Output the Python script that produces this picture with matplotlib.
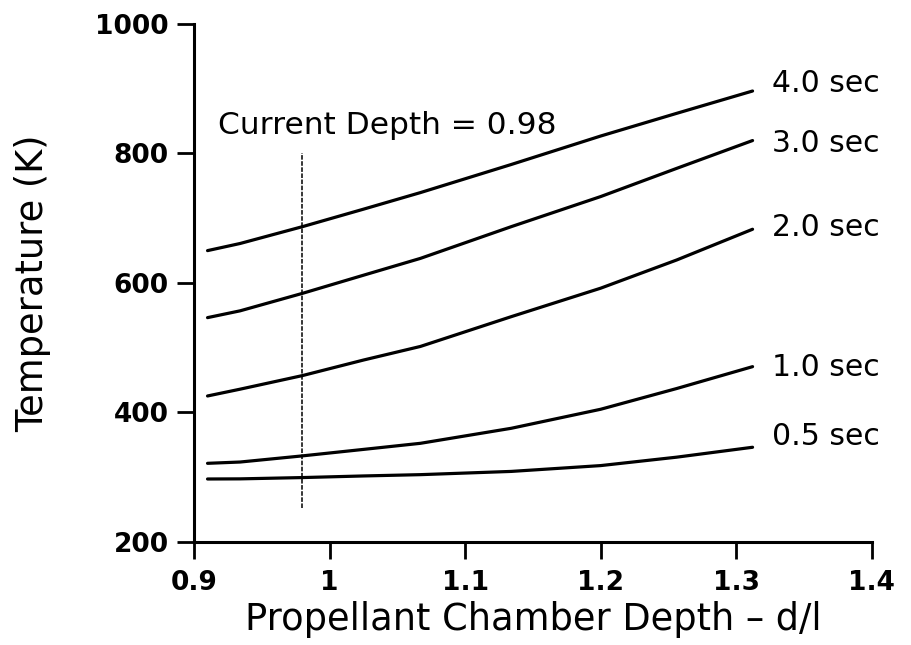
import matplotlib
matplotlib.use("Agg")
import matplotlib.pyplot as plt

DEPTH = [0.91, 0.934, 0.98, 1.025, 1.067, 1.134, 1.20, 1.256, 1.312]
TIME_LABELS = ["0.5 sec", "1.0 sec", "2.0 sec", "3.0 sec", "4.0 sec"]
TEMPS = [
    [297.3, 297.5, 299.5, 302, 304, 309, 318, 331, 346.3],
    [321.5, 323.5, 333, 343, 352.4, 375.6, 405, 437, 470.8],
    [425.5, 436, 457, 481, 502, 548, 592, 635.5, 683],
    [546.5, 557, 584, 612, 638, 687, 733.5, 777, 820],
    [650, 661, 687, 714, 739.6, 783, 827, 862, 896.5],
]
CURRENT_DEPTH = 0.98
X_TICKS = [0.9, 1.0, 1.1, 1.2, 1.3, 1.4]
X_TICK_LABELS = ["0.9", "1", "1.1", "1.2", "1.3", "1.4"]
Y_TICKS = [200, 400, 600, 800, 1000]

# label anchor y offsets relative to curve end (data units)
LABEL_DY = [16, -2, 2, -4, 12]

fig = plt.figure(figsize=(9.12, 6.45), dpi=100)
ax = fig.add_axes([0.2127, 0.1597, 0.956 - 0.2127, 0.9628 - 0.1597])

for temps, label, dy in zip(TEMPS, TIME_LABELS, LABEL_DY):
    ax.plot(DEPTH, temps, color="black", lw=2.3, solid_capstyle="round")
    ax.text(1.3267, temps[-1] + dy, label, fontsize=21.5, va="center", ha="left")

ax.vlines(CURRENT_DEPTH, 252, 800, color="black", lw=1.1, linestyles=(0, (3, 1)))
ax.text(0.9178, 844, f"Current Depth = {CURRENT_DEPTH}", fontsize=22.5, va="center", ha="left")

ax.set_xlim(0.9, 1.4)
ax.set_ylim(200, 1000)
ax.set_xticks(X_TICKS)
ax.set_xticklabels(X_TICK_LABELS)
ax.set_yticks(Y_TICKS)
ax.tick_params(direction="out", length=12, width=2, labelsize=19)
ax.tick_params(axis="x", pad=8)
ax.tick_params(axis="y", pad=6)
for lbl in ax.get_xticklabels() + ax.get_yticklabels():
    lbl.set_fontweight("bold")

for side in ["top", "right"]:
    ax.spines[side].set_visible(False)
for side in ["left", "bottom"]:
    ax.spines[side].set_linewidth(2.2)

ax.set_xlabel("Propellant Chamber Depth \u2013 d/l", fontsize=26.5, labelpad=4)
ax.set_ylabel("Temperature (K)", fontsize=26.5, labelpad=32)

fig.savefig("out.png", dpi=100)
